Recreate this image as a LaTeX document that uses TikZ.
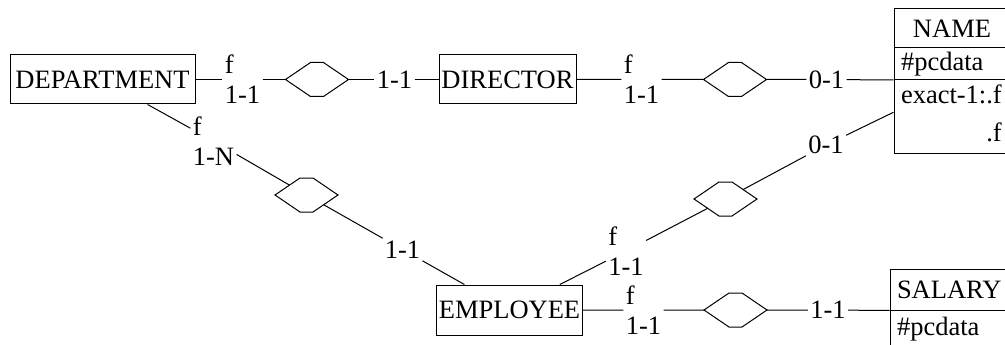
\documentclass[tikz,border=0pt]{standalone}
\usepackage{fontspec}
\setmainfont{Liberation Serif}
\usetikzlibrary{shapes.geometric}

\begin{document}
\begin{tikzpicture}[x=1pt, y=1pt, line width=1pt, font=\fontsize{26.5}{30}\selectfont,
    ent/.style = {draw, rectangle, minimum height=49pt, inner sep=2pt},
    rel/.style = {diamond, minimum width=63pt, minimum height=42.84pt, inner sep=0pt, outer sep=0pt},
    card/.style = {align=left, inner sep=2pt},
    cell/.style = {draw, rectangle, text width=102pt, inner xsep=7pt, inner ysep=1pt, align=left}]
    \useasboundingbox (0,0) rectangle (1005,-345);

    \node[ent, minimum width=185pt] (dep) at (102.5,-79.5) {DEPARTMENT};
    \node[card] (c1) [right of=dep, node distance=140pt] {f\\1-1};
    \node[rel] (r1) [right of=c1, node distance=74.5pt] {};
    \node[card] (c2) [right of=r1, node distance=77.5pt] {1-1};
    \node[ent, minimum width=137pt] (dir) [right of=c2, node distance=113pt] {DIRECTOR};
    \node[card] (c3) [right of=dir, node distance=134pt] {f\\1-1};
    \node[rel] (r2) [right of=c3, node distance=93.5pt] {};
    \node[card] (c4) [right of=r2, node distance=91.5pt] {0-1};

    \node[cell, align=center, minimum height=39pt] (namehd) at (952,-28.5) {NAME};
    \node[cell, minimum height=31.5pt] (namepc) [below of=namehd, node distance=35.25pt] {\#pcdata};
    \node[cell, minimum height=73.5pt] (nameex) [below of=namepc, node distance=52.5pt]
        {\begin{tabular}{@{}r@{}}exact-1:.f\\[8pt].f\end{tabular}};

    \node[card] (c5) at (213.5,-141) {f\\1-N};
    \node[rel] (r5) at (306.5,-195) {};
    \node[card] (c6) at (402.5,-249.5) {1-1};
    \node[card] (c7) at (626,-251) {f\\1-1};
    \node[rel] (r3) at (725.5,-199) {};
    \node[card] (c8) at (826,-145) {0-1};

    \node[ent, minimum width=143pt, minimum height=50pt] (emp) at (509.5,-310) {EMPLOYEE};
    \node[card] (c9) [right of=emp, node distance=134pt] {f\\1-1};
    \node[rel] (r4) [right of=c9, node distance=92pt] {};
    \node[card] (c10) [right of=r4, node distance=92.5pt] {1-1};
    \node[cell, align=center, minimum height=41pt] (salhd) at (948,-289.5) {SALARY};
    \node[cell, minimum height=39pt] (salpc) [below of=salhd, node distance=40pt] {\#pcdata};

    \foreach \r in {r1,r2,r3,r4,r5}
        \draw (\r.west) -- ++(25,17) -- ++(13,0) -- ++(25,-17) -- ++(-25,-17) -- ++(-13,0) -- cycle;

    \draw (dep) -- (c1) -- (r1) -- (c2) -- (dir);
    \draw (dir) -- (c3) -- (r2) -- (c4) -- (namepc.south west);
    \draw (dep) -- (c5) -- (r5) -- (c6) -- (emp);
    \draw (emp) -- (c7) -- (r3) -- (c8) -- ([yshift=4pt]nameex.west);
    \draw (emp) -- (c9) -- (r4) -- (c10) -- (salhd.south west);
\end{tikzpicture}
\end{document}
